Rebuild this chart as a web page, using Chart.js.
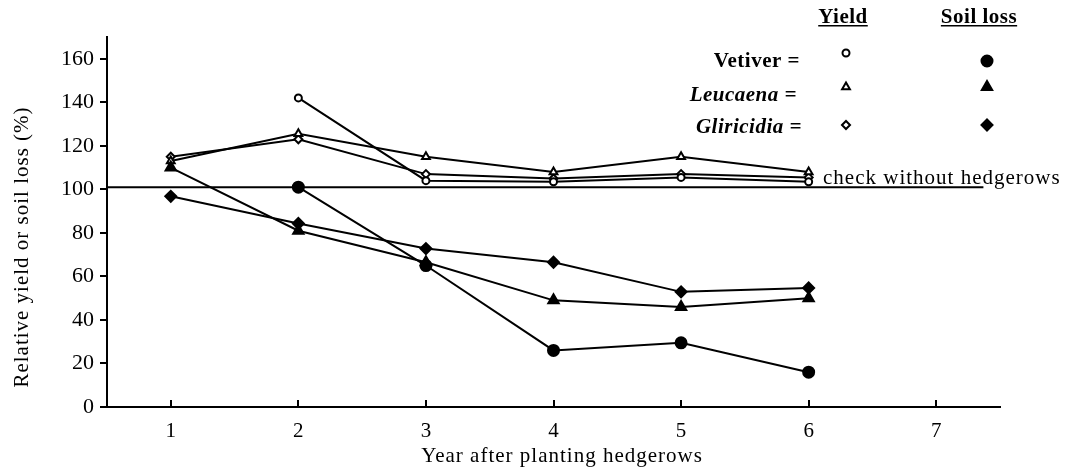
<!DOCTYPE html>
<html>
<head>
<meta charset="utf-8">
<script src="https://cdn.jsdelivr.net/npm/chart.js@4/dist/chart.umd.min.js"></script>
<style>
  html, body { margin: 0; padding: 0; background: #fff; }
  #wrap { width: 1066px; height: 469px; }
</style>
</head>
<body>
<div id="wrap"><canvas id="c" width="1066" height="469"></canvas></div>
<script>
// ---- data ----
const years = [1, 2, 3, 4, 5, 6];
const xTickLabels = [1, 2, 3, 4, 5, 6, 7];
const yTickLabels = [0, 20, 40, 60, 80, 100, 120, 140, 160];

const vetiverYield   = [null, 142, 104, 103.5, 105.5, 103.5];
const leucaenaYield  = [113, 125.5, 115, 108, 115, 108];
const gliricidiaYield= [115, 123, 107, 105, 107, 105.5];

const vetiverSoil    = [null, 101, 65, 26, 29.5, 16];
const leucaenaSoil   = [110, 81, 66.5, 49, 46, 50];
const gliricidiaSoil = [96.8, 84.3, 72.8, 66.5, 52.9, 54.7];

const checkLevel = 101;
const checkLabel = 'check without hedgerows';

const toPts = arr => years.map((x, i) => ({ x: x, y: arr[i] })).filter(p => p.y !== null);

const SERIF = '"Liberation Serif", "DejaVu Serif", serif';

function ds(label, arr, style, filled, radius) {
  return {
    label: label,
    data: toPts(arr),
    borderColor: '#000',
    borderWidth: 2,
    pointStyle: style,
    pointRadius: radius,
    pointHoverRadius: radius,
    pointBorderWidth: 2,
    pointBorderColor: '#000',
    pointBackgroundColor: filled ? '#000' : '#fff',
    tension: 0,
    fill: false
  };
}

const datasets = [
  {
    label: 'check',
    data: [{ x: 0.5, y: checkLevel }, { x: 7.37, y: checkLevel }],
    borderColor: '#000', borderWidth: 2, pointRadius: 0, fill: false, tension: 0
  },
  ds('Vetiver soil loss', vetiverSoil, 'circle', true, 5.5),
  ds('Leucaena soil loss', leucaenaSoil, 'triangle', true, 6),
  ds('Gliricidia soil loss', gliricidiaSoil, 'rectRot', true, 5.5),
  ds('Vetiver yield', vetiverYield, 'circle', false, 3.5),
  ds('Leucaena yield', leucaenaYield, 'triangle', false, 4.5),
  ds('Gliricidia yield', gliricidiaYield, 'rectRot', false, 4)
];

function marker(ctx, style, r, x, y) {
  Chart.helpers.drawPoint(ctx, {
    pointStyle: style, radius: r, rotation: 0, borderWidth: 2
  }, x, y);
}

const decor = {
  id: 'decor',
  afterDraw(chart) {
    const ctx = chart.ctx;
    const xs = chart.scales.x, ys = chart.scales.y;
    ctx.save();
    // inward x ticks
    ctx.strokeStyle = '#000';
    ctx.lineWidth = 2;
    xTickLabels.forEach(v => {
      const px = Math.round(xs.getPixelForValue(v));
      ctx.beginPath();
      ctx.moveTo(px, ys.bottom);
      ctx.lineTo(px, ys.bottom - 7);
      ctx.stroke();
    });
    // axis titles
    ctx.fillStyle = '#000';
    ctx.font = '21px ' + SERIF;
    ctx.letterSpacing = '1px';
    ctx.textAlign = 'center';
    ctx.textBaseline = 'middle';
    ctx.fillText('Year after planting hedgerows', 562, 456);
    ctx.save();
    ctx.translate(22, 247);
    ctx.rotate(-Math.PI / 2);
    ctx.fillText('Relative yield or soil loss (%)', 0, 0);
    ctx.restore();

    // check label
    ctx.textAlign = 'left';
    ctx.textBaseline = 'alphabetic';
    ctx.fillText(checkLabel, 823, ys.getPixelForValue(checkLevel) - 3);

    // legend headers
    ctx.font = 'bold 21px ' + SERIF;
    ctx.letterSpacing = '0.5px';
    ctx.textAlign = 'center';
    ctx.textBaseline = 'alphabetic';
    const heads = [['Yield', 843], ['Soil loss', 979]];
    heads.forEach(([t, cx]) => {
      ctx.fillText(t, cx, 23);
      const w = ctx.measureText(t).width;
      ctx.fillRect(cx - w / 2, 25, w, 1.5);
    });
    // legend rows
    ctx.textAlign = 'right';
    ctx.textBaseline = 'middle';
    const rows = [
      ['Vetiver =', 'bold 21px ', 800, 62, 'circle', 53, 61, 3.5, 5.5],
      ['Leucaena =', 'bold italic 21px ', 797, 96, 'triangle', 87, 87, 4.5, 6],
      ['Gliricidia =', 'bold italic 21px ', 802, 128, 'rectRot', 125, 125, 4, 5.5]
    ];
    rows.forEach(r => {
      ctx.font = r[1] + SERIF;
      ctx.fillStyle = '#000';
      ctx.fillText(r[0], r[2], r[3]);
      ctx.strokeStyle = '#000';
      ctx.lineWidth = 2;
      ctx.fillStyle = '#fff';
      marker(ctx, r[4], r[7], 846, r[5]);
      ctx.fillStyle = '#000';
      marker(ctx, r[4], r[8], 987, r[6]);
    });
    ctx.letterSpacing = '0px';
    ctx.restore();
  }
};

new Chart(document.getElementById('c'), {
  type: 'line',
  data: { datasets: datasets },
  options: {
    responsive: false,
    animation: false,
    events: [],
    layout: { padding: { left: 0, right: 66, top: 37, bottom: 0 } },
    plugins: { legend: { display: false }, tooltip: { enabled: false } },
    scales: {
      x: {
        type: 'linear',
        min: 0.5, max: 7.5,
        afterBuildTicks: s => { s.ticks = xTickLabels.map(v => ({ value: v })); },
        afterFit: s => { s.height = 62; },
        grid: { display: false, drawTicks: false },
        border: { display: true, color: '#000', width: 2 },
        ticks: { color: '#000', font: { family: SERIF, size: 21 }, padding: 12, maxRotation: 0 }
      },
      y: {
        type: 'linear',
        min: 0, max: 170,
        afterBuildTicks: s => { s.ticks = yTickLabels.map(v => ({ value: v })); },
        afterFit: s => { s.width = 107; },
        grid: { display: true, drawOnChartArea: false, drawTicks: true, tickLength: 7, color: '#000', lineWidth: 2 },
        border: { display: true, color: '#000', width: 2 },
        ticks: { color: '#000', font: { family: SERIF, size: 22 }, padding: 6 }
      }
    }
  },
  plugins: [decor]
});
</script>
</body>
</html>
